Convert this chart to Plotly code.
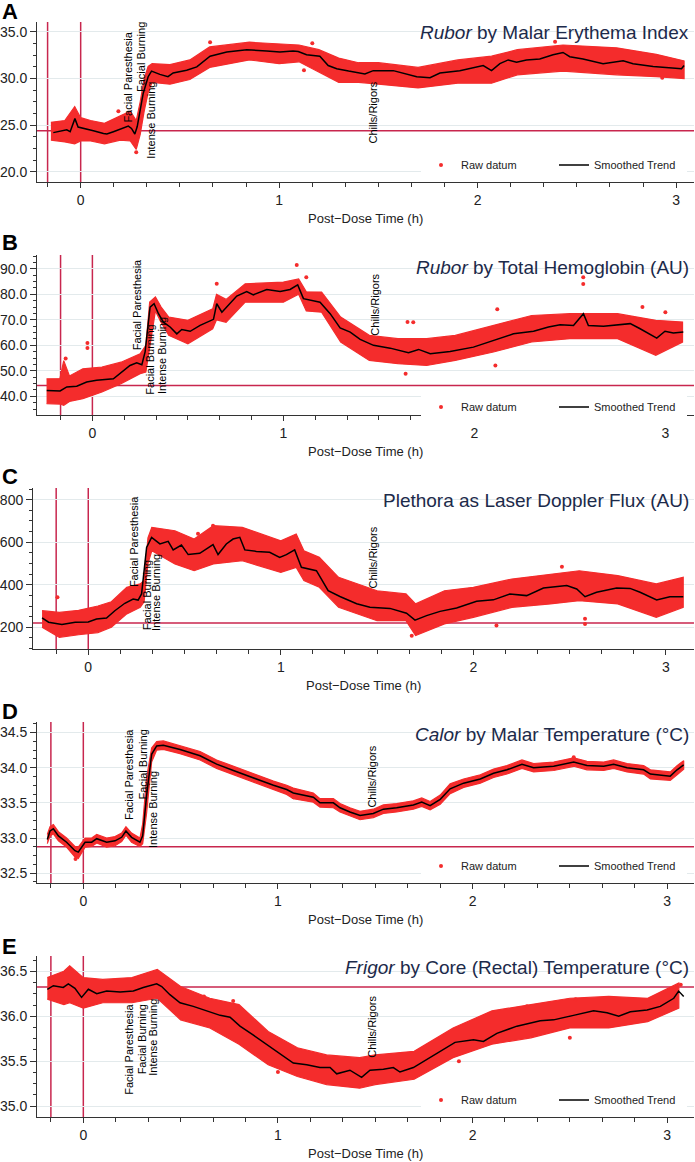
import plotly.graph_objects as go

W, H = 695, 1162
RED = '#f42c2c'
REF = '#c8264e'
NAVY = '#1c2a4a'
GRID = '#e3eaec'
AX = '#333333'
FONT = 'Liberation Sans, Arial, Helvetica, sans-serif'

# ---------------- shared data ----------------
ref_times = [-1/6, 0.0]
event_labels = ['Facial Paresthesia', 'Facial Burning', 'Intense Burning', 'Chills/Rigors']
x_tick_vals = [0, 1, 2, 3]
x_tick_text = ['0', '1', '2', '3']
axis_title = 'Post\u2212Dose Time (h)'
legend_names = ['Raw datum', 'Smoothed Trend']

# ---------------- Panel A : Rubor by Malar Erythema Index ----------------
A_t = [-0.138, -0.07, -0.053, -0.029, -0.013, 0.03, 0.064, 0.115, 0.132, 0.165, 0.207, 0.24, 0.256, 0.273,
       0.285, 0.298, 0.315, 0.34, 0.357, 0.399, 0.44, 0.466, 0.534, 0.585, 0.618, 0.652, 0.736, 0.837, 0.937,
       1.004, 1.07, 1.096, 1.138, 1.205, 1.247, 1.29, 1.35, 1.432, 1.474, 1.575, 1.693, 1.76, 1.81, 1.91, 2.028,
       2.07, 2.112, 2.154, 2.196, 2.246, 2.313, 2.38, 2.43, 2.464, 2.531, 2.632, 2.733, 2.783, 2.884, 2.985,
       3.027, 3.04]
A_y = [24.2, 24.5, 24.3, 25.7, 24.8, 24.6, 24.4, 24.1, 24.05, 24.3, 24.65, 24.9, 24.65, 24.05, 24.85, 26.6,
       28.4, 30.2, 30.8, 30.45, 30.2, 30.6, 30.9, 31.25, 31.8, 32.4, 32.85, 33.1, 32.95, 32.85, 32.95, 32.9,
       32.55, 32.4, 31.4, 31.05, 30.8, 30.5, 30.85, 30.85, 30.2, 30.1, 30.6, 30.85, 31.4, 30.85, 31.6, 32.0,
       31.75, 32.0, 32.1, 32.55, 32.8, 32.35, 32.1, 31.6, 31.9, 31.6, 31.3, 31.15, 31.05, 31.4]
A_band_t = [-0.15, -0.08, -0.03, 0.0, 0.05, 0.12, 0.2, 0.25, 0.28, 0.30, 0.32, 0.34, 0.36, 0.45, 0.55, 0.65,
            0.85, 1.0, 1.1, 1.2, 1.3, 1.4, 1.5, 1.7, 1.9, 2.07, 2.2, 2.43, 2.7, 2.9, 3.04]
A_lo = [23.4, 23.2, 23.0, 23.3, 23.3, 23.0, 23.4, 23.3, 22.4, 24.0, 26.5, 28.5, 29.6, 29.4, 29.9, 31.2,
        32.0, 31.6, 31.8, 30.7, 29.6, 29.6, 29.4, 29.0, 29.5, 29.5, 30.4, 30.8, 30.4, 30.2, 30.0]
A_hi = [25.3, 25.5, 27.0, 25.8, 25.5, 25.2, 26.0, 26.5, 25.5, 27.5, 30.0, 31.3, 31.6, 31.5, 32.0, 33.4,
        33.9, 33.7, 33.6, 33.1, 32.2, 31.7, 31.7, 31.2, 32.0, 32.4, 33.1, 33.6, 33.3, 32.6, 31.9]
A_out_t = [0.652, 1.167, 1.125, 2.39, 2.93, 0.19, 0.28]
A_out_y = [33.9, 33.8, 30.9, 33.95, 30.1, 26.5, 22.1]
A_ev_t = [0.237, 0.307, 0.357, 1.474]
A_ev_y = [30.18, 32.27, 25.54, 26.38]
A_base = 24.39

# ---------------- Panel B : Rubor by Total Hemoglobin ----------------
B_t = [-0.239, -0.169, -0.134, -0.082, -0.03, 0.022, 0.11, 0.145, 0.197, 0.232, 0.259, 0.276, 0.302, 0.323,
       0.346, 0.372, 0.407, 0.442, 0.468, 0.512, 0.564, 0.634, 0.651, 0.678, 0.721, 0.756, 0.808, 0.843, 0.913,
       0.983, 1.035, 1.075, 1.105, 1.192, 1.245, 1.297, 1.35, 1.402, 1.472, 1.559, 1.655, 1.708, 1.769, 1.873,
       1.995, 2.1, 2.205, 2.31, 2.388, 2.449, 2.519, 2.571, 2.597, 2.676, 2.746, 2.816, 2.868, 2.955, 2.998,
       3.042, 3.094]
B_y = [42.3, 42.1, 43.7, 44.0, 45.6, 46.3, 46.9, 48.9, 52.1, 53.2, 52.4, 57.4, 75.0, 76.3, 72.4, 69.1, 67.2,
       64.5, 66.2, 65.5, 67.8, 70.2, 76.3, 73.0, 76.3, 79.3, 81.1, 79.8, 81.9, 81.1, 81.9, 83.7, 78.3, 76.9,
       72.4, 66.8, 65.2, 62.3, 60.0, 58.9, 57.1, 58.4, 56.7, 57.6, 59.3, 61.9, 64.5, 65.5, 67.2, 68.1, 67.8,
       72.4, 67.8, 67.5, 68.1, 68.5, 66.5, 62.8, 65.5, 64.8, 65.2]
B_band_t = [-0.24, -0.17, -0.15, -0.12, -0.05, 0.05, 0.15, 0.25, 0.28, 0.30, 0.33, 0.36, 0.4, 0.5, 0.63,
            0.65, 0.7, 0.8, 1.0, 1.08, 1.12, 1.2, 1.3, 1.45, 1.6, 1.75, 1.9, 2.1, 2.3, 2.5, 2.75, 2.95, 3.09]
B_lo = [37.1, 37.0, 36.5, 38.0, 39.1, 41.7, 45.0, 48.9, 49.5, 60.0, 73.5, 69.0, 63.9, 60.6, 66.5, 70.0,
        69.0, 76.9, 76.9, 80.0, 73.5, 73.0, 61.3, 54.1, 52.8, 52.1, 54.1, 57.4, 61.3, 62.6, 62.6, 56.1, 61.3]
B_hi = [46.9, 47.0, 54.0, 48.0, 50.8, 51.5, 53.4, 56.7, 60.0, 77.0, 79.0, 75.0, 71.1, 69.8, 74.3, 80.0,
        78.0, 84.1, 84.8, 86.0, 81.0, 80.9, 71.1, 63.9, 62.6, 62.6, 63.9, 67.8, 71.7, 72.4, 72.4, 69.8, 69.1]
B_out_t = [-0.14, -0.026, -0.026, 0.651, 1.07, 1.12, 1.65, 1.68, 1.64, 2.12, 2.11, 2.57, 2.57, 2.88, 3.0]
B_out_y = [54.8, 60.9, 59.0, 84.1, 91.5, 86.7, 69.1, 69.0, 48.9, 74.1, 52.1, 86.7, 84.0, 75.0, 73.0]
B_ev_t = [0.232, 0.302, 0.368, 1.48]
B_ev_y = [75.97, 54.4, 56.1, 75.97]
B_base = 44.3

# ---------------- Panel C : Plethora as Laser Doppler Flux ----------------
C_t = [-0.24, -0.206, -0.137, -0.068, 0.0, 0.043, 0.095, 0.138, 0.19, 0.233, 0.259, 0.277, 0.303, 0.329,
       0.372, 0.415, 0.441, 0.484, 0.519, 0.579, 0.648, 0.674, 0.717, 0.752, 0.787, 0.813, 0.873, 0.942,
       0.994, 1.029, 1.072, 1.107, 1.185, 1.246, 1.307, 1.394, 1.463, 1.567, 1.653, 1.697, 1.757, 1.827,
       1.913, 2.017, 2.104, 2.19, 2.277, 2.364, 2.485, 2.537, 2.58, 2.64, 2.744, 2.814, 2.866, 2.952, 3.021,
       3.09]
C_y = [244, 224, 213, 224, 225, 239, 244, 278, 313, 333, 328, 357, 576, 623, 592, 604, 564, 587, 542, 548,
       589, 542, 592, 615, 623, 564, 557, 553, 529, 542, 564, 482, 466, 372, 345, 311, 294, 289, 266, 234,
       255, 275, 291, 322, 329, 357, 349, 385, 396, 380, 344, 365, 385, 383, 365, 329, 344, 344]
C_band_t = [-0.24, -0.15, -0.05, 0.05, 0.12, 0.2, 0.27, 0.29, 0.31, 0.33, 0.45, 0.55, 0.65, 0.8, 1.0, 1.08,
            1.12, 1.2, 1.3, 1.5, 1.65, 1.7, 1.85, 2.0, 2.2, 2.4, 2.55, 2.75, 2.95, 3.09]
C_lo = [200, 153, 165, 175, 200, 263, 294, 320, 500, 560, 498, 466, 498, 513, 458, 482, 420, 388, 294, 231,
        231, 161, 216, 247, 294, 310, 325, 310, 247, 294]
C_hi = [278, 270, 280, 300, 320, 388, 404, 420, 620, 670, 654, 615, 678, 670, 607, 639, 560, 529, 435, 372,
        357, 310, 372, 388, 427, 451, 466, 443, 404, 435]
C_out_t = [-0.16, 0.648, 2.12, 2.58, 2.58, 2.46, 1.68, 0.57]
C_out_y = [341, 678, 208, 216, 240, 485, 160, 640]
C_ev_t = [0.234, 0.303, 0.355, 1.48]
C_ev_y = [602, 349, 364.5, 529]
C_base = 220

# ---------------- Panel D : Calor by Malar Temperature ----------------
D_t = [-0.185, -0.171, -0.154, -0.128, -0.086, -0.043, -0.026, 0.009, 0.043, 0.069, 0.12, 0.163, 0.197,
       0.219, 0.248, 0.291, 0.305, 0.325, 0.351, 0.377, 0.411, 0.497, 0.6, 0.685, 0.771, 0.874, 0.977, 1.045,
       1.079, 1.182, 1.216, 1.285, 1.319, 1.37, 1.422, 1.49, 1.542, 1.61, 1.696, 1.739, 1.782, 1.834, 1.885,
       1.954, 2.04, 2.108, 2.177, 2.254, 2.314, 2.417, 2.52, 2.588, 2.674, 2.725, 2.794, 2.879, 2.914, 3.016,
       3.051, 3.085]
D_y = [32.98, 33.10, 33.13, 33.03, 32.94, 32.82, 32.80, 32.94, 32.94, 32.99, 32.94, 32.96, 33.01, 33.10,
       33.01, 32.94, 33.03, 33.60, 34.19, 34.31, 34.32, 34.26, 34.17, 34.05, 33.96, 33.85, 33.75, 33.69,
       33.64, 33.58, 33.50, 33.50, 33.43, 33.37, 33.32, 33.35, 33.41, 33.43, 33.47, 33.51, 33.46, 33.55,
       33.70, 33.78, 33.84, 33.92, 33.97, 34.05, 34.00, 34.02, 34.08, 34.03, 34.02, 34.05, 34.00, 33.97,
       33.91, 33.88, 33.97, 34.04]
D_band_t = D_t
D_lo = [32.92, 33.03, 33.06, 32.96, 32.87, 32.73, 32.71, 32.87, 32.88, 32.93, 32.87, 32.89, 32.95, 33.04,
        32.94, 32.88, 32.92, 33.35, 34.08, 34.25, 34.26, 34.20, 34.11, 33.99, 33.90, 33.79, 33.69, 33.62,
        33.56, 33.51, 33.44, 33.43, 33.37, 33.31, 33.26, 33.29, 33.35, 33.37, 33.41, 33.45, 33.40, 33.48,
        33.63, 33.72, 33.78, 33.86, 33.91, 33.99, 33.94, 33.96, 34.02, 33.97, 33.96, 33.99, 33.94, 33.91,
        33.84, 33.82, 33.90, 33.98]
D_hi = [33.05, 33.16, 33.19, 33.09, 33.00, 32.88, 32.87, 33.00, 33.00, 33.05, 33.00, 33.02, 33.07, 33.16,
        33.07, 33.00, 33.20, 33.85, 34.28, 34.37, 34.38, 34.31, 34.23, 34.11, 34.02, 33.91, 33.81, 33.75,
        33.71, 33.64, 33.56, 33.56, 33.49, 33.43, 33.38, 33.41, 33.47, 33.49, 33.53, 33.57, 33.52, 33.61,
        33.77, 33.84, 33.90, 33.98, 34.03, 34.11, 34.06, 34.08, 34.14, 34.09, 34.08, 34.11, 34.06, 34.03,
        33.97, 33.94, 34.03, 34.10]
D_out_t = [1.08, 2.52, -0.04]
D_out_y = [33.58, 34.15, 32.70]
D_ev_t = [0.231, 0.305, 0.357, 1.482]
D_ev_y = [33.90, 34.04, 33.41, 33.87]
D_base = 32.876

# ---------------- Panel E : Frigor by Core (Rectal) Temperature ----------------
E_t = [-0.185, -0.154, -0.103, -0.077, -0.043, -0.009, 0.026, 0.069, 0.12, 0.189, 0.257, 0.308, 0.377, 0.403,
       0.445, 0.497, 0.565, 0.634, 0.703, 0.754, 0.805, 0.874, 0.942, 1.011, 1.079, 1.148, 1.216, 1.268,
       1.302, 1.37, 1.43, 1.473, 1.542, 1.593, 1.627, 1.696, 1.765, 1.834, 1.91, 2.005, 2.056, 2.125, 2.228,
       2.348, 2.417, 2.519, 2.622, 2.691, 2.751, 2.811, 2.897, 2.965, 3.008, 3.034, 3.059, 3.085]
E_y = [36.30, 36.34, 36.32, 36.36, 36.31, 36.21, 36.30, 36.25, 36.28, 36.27, 36.28, 36.32, 36.36, 36.33,
       36.24, 36.15, 36.11, 36.06, 36.01, 35.99, 35.89, 35.79, 35.69, 35.59, 35.48, 35.46, 35.43, 35.43,
       35.36, 35.40, 35.32, 35.40, 35.41, 35.43, 35.38, 35.43, 35.52, 35.61, 35.71, 35.74, 35.72, 35.81,
       35.89, 35.95, 35.96, 36.01, 36.06, 36.04, 36.00, 36.05, 36.07, 36.11, 36.17, 36.20, 36.28, 36.22]
E_band_t = [-0.185, -0.1, -0.07, 0.0, 0.1, 0.25, 0.38, 0.5, 0.65, 0.8, 0.95, 1.1, 1.25, 1.42, 1.5, 1.7, 1.9,
            2.1, 2.3, 2.5, 2.7, 2.9, 3.06]
E_lo = [36.19, 36.13, 36.15, 36.09, 36.15, 36.15, 36.20, 35.96, 35.87, 35.69, 35.46, 35.33, 35.24, 35.20,
        35.24, 35.30, 35.54, 35.69, 35.76, 35.87, 35.87, 35.94, 36.09]
E_hi = [36.43, 36.50, 36.56, 36.43, 36.41, 36.43, 36.52, 36.33, 36.20, 36.13, 35.83, 35.65, 35.57, 35.54,
        35.57, 35.61, 35.87, 36.06, 36.13, 36.20, 36.22, 36.20, 36.37]
E_out_t = [1.0, 0.62, 2.5, 2.28, 2.53, 0.77, 1.93, 3.07]
E_out_y = [35.38, 36.22, 35.76, 36.11, 36.19, 36.17, 35.50, 36.35]
E_ev_t = [0.231, 0.30, 0.357, 1.482]
E_ev_y = [35.63, 35.74, 35.77, 35.88]
E_base = 36.326

# ---------------- titles ----------------
titles = ['<i>Rubor</i> by Malar Erythema Index',
          '<i>Rubor</i> by Total Hemoglobin (AU)',
          'Plethora as Laser Doppler Flux (AU)',
          '<i>Calor</i> by Malar Temperature (\u00b0C)',
          '<i>Frigor</i> by Core (Rectal) Temperature (\u00b0C)']
letters = ['A', 'B', 'C', 'D', 'E']

data = [
    (A_t, A_y, A_band_t, A_lo, A_hi, A_out_t, A_out_y, A_ev_t, A_ev_y, A_base),
    (B_t, B_y, B_band_t, B_lo, B_hi, B_out_t, B_out_y, B_ev_t, B_ev_y, B_base),
    (C_t, C_y, C_band_t, C_lo, C_hi, C_out_t, C_out_y, C_ev_t, C_ev_y, C_base),
    (D_t, D_y, D_band_t, D_lo, D_hi, D_out_t, D_out_y, D_ev_t, D_ev_y, D_base),
    (E_t, E_y, E_band_t, E_lo, E_hi, E_out_t, E_out_y, E_ev_t, E_ev_y, E_base),
]

# layout geometry in pixels (positions / styles only)
geo = [
    dict(x0=37, top=22, bot=182, xr=[-0.220, 3.090], yr=[18.9, 36.07], dt=5, mn=1.25, fmt='.1f',
         leg=165, ttl=33, let=11),
    dict(x0=37, top=255, bot=415, xr=[-0.290, 3.150], yr=[32.7, 95.4], dt=10, mn=2.5, fmt='.1f',
         leg=407, ttl=267, let=243),
    dict(x0=33, top=488, bot=649, xr=[-0.287, 3.146], yr=[98, 855], dt=200, mn=50, fmt='d',
         leg=None, ttl=501, let=476),
    dict(x0=37, top=722, bot=883, xr=[-0.238, 3.138], yr=[32.36, 34.65], dt=0.5, mn=0.125, fmt='.1f',
         leg=866, ttl=734, let=711),
    dict(x0=37, top=956, bot=1117, xr=[-0.238, 3.138], yr=[34.88, 36.67], dt=0.5, mn=0.125, fmt='.1f',
         leg=1100, ttl=967, let=946),
]

X1 = 694


def py(p):
    return 1 - p / H


fig = go.Figure()
layout = dict(width=W, height=H, margin=dict(l=0, r=0, t=0, b=0, autoexpand=False), autosize=False,
              paper_bgcolor='white', plot_bgcolor='white',
              font=dict(family=FONT, color='#222222'), showlegend=True)
shapes, annotations = [], []

for i, (d, g) in enumerate(zip(data, geo)):
    n = i + 1
    xs = '' if n == 1 else str(n)
    xa, ya = 'x' + xs, 'y' + xs
    t, y, bt, lo, hi, ot, oy, et, ey, base = d
    has_leg = g['leg'] is not None
    lg = 'legend' + ('' if n == 1 else str(n))

    # raw data cloud
    fig.add_trace(go.Scatter(x=list(bt) + list(bt)[::-1], y=list(hi) + list(lo)[::-1],
                             fill='toself', fillcolor=RED, mode='lines',
                             line=dict(color=RED, width=1.2), hoverinfo='skip',
                             showlegend=False, xaxis=xa, yaxis=ya))
    fig.add_trace(go.Scatter(x=ot, y=oy, mode='markers', marker=dict(color=RED, size=4),
                             name=legend_names[0], showlegend=has_leg, legend=lg,
                             xaxis=xa, yaxis=ya))
    fig.add_trace(go.Scatter(x=t, y=y, mode='lines', line=dict(color='black', width=1.5),
                             name=legend_names[1], showlegend=has_leg, legend=lg,
                             xaxis=xa, yaxis=ya))

    dom_x = [g['x0'] / W, X1 / W]
    dom_y = [py(g['bot']), py(g['top'])]
    layout['xaxis' + xs] = dict(
        domain=dom_x, range=g['xr'], anchor=ya, showgrid=False, zeroline=False,
        showline=True, linecolor=AX, linewidth=1, ticks='outside', ticklen=5, tickcolor=AX,
        tickvals=x_tick_vals, ticktext=x_tick_text, tickfont=dict(size=14, color='#222222'),
        minor=dict(dtick=1/6, tick0=0, ticklen=4, ticks='outside', tickcolor=AX, showgrid=False),
        automargin=False, fixedrange=True)
    layout['yaxis' + xs] = dict(
        domain=dom_y, range=g['yr'], anchor=xa, showgrid=True, gridcolor=GRID, gridwidth=1,
        zeroline=False, showline=True, linecolor=AX, linewidth=1, ticks='outside', ticklen=6,
        tickcolor=AX, dtick=g['dt'], tick0=0, tickformat=g['fmt'],
        tickfont=dict(size=14, color='#222222'),
        minor=dict(dtick=g['mn'], tick0=0, ticklen=3, ticks='outside', tickcolor=AX, showgrid=False),
        automargin=False, fixedrange=True)

    # reference lines
    for rt in ref_times:
        shapes.append(dict(type='line', xref=xa, yref=ya + ' domain', x0=rt, x1=rt, y0=0, y1=1,
                           line=dict(color=REF, width=1.5), layer='below'))
    shapes.append(dict(type='line', xref=xa + ' domain', yref=ya, x0=0, x1=1, y0=base, y1=base,
                       line=dict(color=REF, width=1.5), layer='below'))

    # event labels
    for lab, ex, eyv in zip(event_labels, et, ey):
        annotations.append(dict(text=lab, x=ex, y=eyv, xref=xa, yref=ya, showarrow=False,
                                textangle=-90, xanchor='center', yanchor='middle',
                                font=dict(size=11, color='black')))

    # panel title
    annotations.append(dict(text=titles[i], x=691 / W, y=py(g['ttl']), xref='paper', yref='paper',
                            xanchor='right', yanchor='middle', showarrow=False,
                            font=dict(size=19, color=NAVY)))
    # panel letter
    annotations.append(dict(text='<b>' + letters[i] + '</b>', x=0, y=py(g['let']), xref='paper',
                            yref='paper', xanchor='left', yanchor='middle', showarrow=False,
                            font=dict(size=22, color='black')))
    # x axis title
    annotations.append(dict(text=axis_title, x=(g['x0'] + X1) / 2 / W, y=py(g['bot'] + 36),
                            xref='paper', yref='paper', xanchor='center', yanchor='middle',
                            showarrow=False, font=dict(size=13, color='#222222')))

    if has_leg:
        layout[lg] = dict(orientation='h', x=421 / W, y=py(g['leg']), xanchor='left', yanchor='middle',
                          bgcolor='white', borderwidth=0, font=dict(size=11, color='#222222'),
                          entrywidth=88, entrywidthmode='pixels', itemsizing='trace',
                          tracegroupgap=0)

layout['shapes'] = shapes
layout['annotations'] = annotations
fig.update_layout(**layout)
fig.write_html('out.html', config={'displayModeBar': False},
               post_script="document.body.style.margin='0px';")
